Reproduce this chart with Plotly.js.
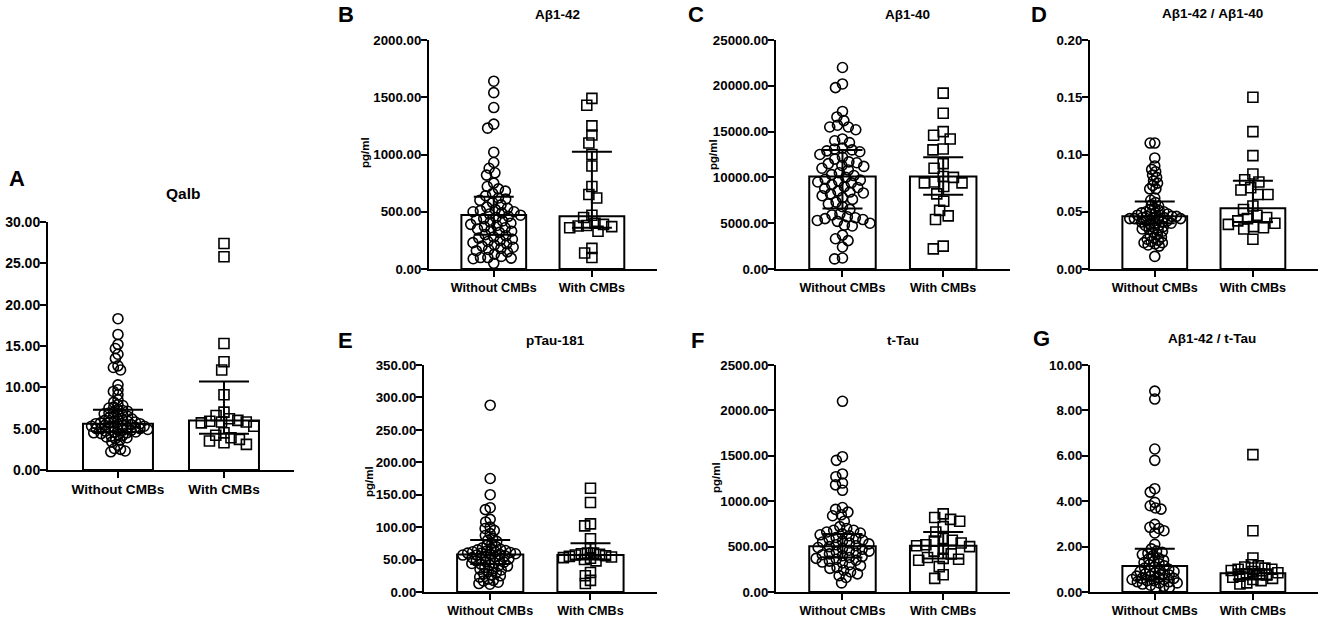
<!DOCTYPE html>
<html><head><meta charset="utf-8">
<script src="https://cdn.plot.ly/plotly-3.0.1.min.js"></script>
<style>html,body{margin:0;padding:0;background:#fff}#chart{width:1325px;height:618px}</style>
</head><body><div id="chart"></div>
<script>
// ---------- DATA ----------
const groups = ['Without CMBs', 'With CMBs'];

const qalbWithout = [18.3,16.4,15.2,14.7,14.0,13.5,12.6,12.4,12.1,10.3,9.7,9.5,9.1,8.5,8.2,7.9,7.8,7.6,7.5,7.3,7.2,7.1,7.0,6.9,6.8,6.7,6.6,6.5,6.4,6.3,6.2,6.1,6.0,6.0,5.9,5.8,5.8,5.7,5.7,5.6,5.6,5.5,5.5,5.4,5.4,5.3,5.3,5.2,5.2,5.1,5.1,5.0,5.0,5.0,4.9,4.9,4.8,4.8,4.7,4.6,4.6,4.5,4.5,4.4,4.3,4.2,4.1,4.0,3.9,3.8,3.6,3.4,3.0,2.6,2.5,2.3,2.2];
const qalbWith = [27.4,25.8,15.3,13.1,12.1,9.1,7.0,6.6,6.2,6.0,5.9,5.8,5.8,5.7,5.3,4.5,4.2,3.9,3.7,3.5,3.3,3.1];
const qalbMedian = [5.6, 6.0];
const qalbQ1 = [4.6, 4.4];
const qalbQ3 = [7.3, 10.7];

const ab42Without = [1640,1540,1410,1265,1230,1020,930,880,840,820,750,720,700,680,660,640,620,610,600,580,560,540,530,520,510,500,500,490,480,470,460,450,440,430,420,410,400,390,380,370,360,350,340,330,320,300,290,280,270,260,250,240,230,220,210,200,190,180,170,160,150,130,110,100,100,95,90,50];
const ab42With = [1490,1430,1250,1170,1100,1000,900,720,650,620,470,450,400,390,380,375,370,360,330,180,140,100];
const ab42Median = [472, 460];
const ab42Q1 = [300, 360];
const ab42Q3 = [630, 1025];

const ab40Without = [22000,20200,19800,17200,16600,16200,15700,15500,15500,15200,14200,14000,13800,13200,13100,13000,12900,12800,12500,12200,12000,11700,11600,11500,11300,11200,11000,10800,10500,10300,10200,10000,9800,9700,9600,9500,9400,9200,9000,8900,8800,8500,8400,8300,8200,8000,7800,7600,7300,7100,6800,6500,6000,5900,5700,5600,5500,5400,5300,5200,5000,4800,4700,3700,3300,3100,2400,1200,1100];
const ab40With = [19200,17000,15000,14600,14200,13100,13000,11500,11000,10100,10000,9500,9400,9400,9000,8200,7400,6400,5800,5400,2500,2200];
const ab40Median = [10100, 10100];
const ab40Q1 = [6600, 8100];
const ab40Q3 = [13000, 12200];

const ab42ab40Without = [0.110,0.110,0.097,0.090,0.087,0.085,0.082,0.080,0.077,0.075,0.073,0.070,0.070,0.062,0.060,0.058,0.056,0.055,0.053,0.052,0.051,0.050,0.050,0.049,0.049,0.048,0.048,0.047,0.047,0.046,0.046,0.046,0.045,0.045,0.045,0.044,0.044,0.044,0.043,0.043,0.042,0.042,0.041,0.041,0.040,0.040,0.039,0.038,0.038,0.037,0.036,0.035,0.035,0.034,0.033,0.032,0.030,0.029,0.028,0.027,0.026,0.025,0.024,0.023,0.023,0.022,0.021,0.020,0.011];
const ab42ab40With = [0.150,0.120,0.099,0.083,0.078,0.076,0.071,0.069,0.065,0.065,0.055,0.052,0.047,0.045,0.044,0.042,0.040,0.039,0.037,0.036,0.035,0.026];
const ab42ab40Median = [0.046, 0.053];
const ab42ab40Q1 = [0.040, 0.041];
const ab42ab40Q3 = [0.059, 0.077];

const ptauWithout = [288,175,150,130,127,112,108,100,98,95,90,87,83,80,78,75,72,70,68,67,66,65,64,63,62,62,61,60,60,59,58,58,57,57,56,55,54,53,52,51,50,49,48,47,46,45,44,43,42,41,40,38,36,35,34,32,30,28,26,25,23,20,18,17,15,13,12];
const ptauWith = [160,138,105,102,82,68,60,60,59,58,57,56,55,54,53,52,50,48,30,25,18,13];
const ptauMedian = [58, 57];
const ptauQ1 = [43, 50];
const ptauQ3 = [80, 75];

const ttauWithout = [2100,1490,1450,1300,1270,1200,1180,1120,930,910,880,850,840,780,720,700,680,680,660,650,640,630,620,600,590,580,570,560,550,540,530,520,510,500,490,480,470,460,450,440,430,420,410,400,390,380,370,360,350,340,330,320,300,290,270,260,240,220,200,180,160,100];
const ttauWith = [860,820,800,780,720,660,590,570,560,540,520,510,500,470,450,420,380,370,360,350,280,190,150];
const ttauMedian = [505, 510];
const ttauQ1 = [380, 370];
const ttauQ3 = [640, 660];

const ab42ttauWithout = [8.85,8.5,6.3,5.8,4.55,4.4,3.95,3.8,3.7,3.65,2.98,2.85,2.8,2.7,2.6,2.1,1.9,1.8,1.75,1.7,1.65,1.6,1.5,1.45,1.4,1.35,1.3,1.25,1.2,1.15,1.1,1.05,1.0,1.0,0.95,0.9,0.9,0.85,0.8,0.8,0.75,0.7,0.7,0.65,0.6,0.6,0.55,0.55,0.5,0.5,0.45,0.45,0.4,0.4,0.35,0.3,0.25,0.2,0.2];
const ab42ttauWith = [6.05,2.7,1.5,1.2,1.15,1.1,1.05,1.0,1.0,0.95,0.9,0.85,0.8,0.8,0.75,0.7,0.65,0.6,0.55,0.5,0.4,0.35];
const ab42ttauMedian = [1.15, 0.83];
const ab42ttauQ1 = [0.55, 0.55];
const ab42ttauQ3 = [1.9, 1.0];

// ---------- PANELS (data refs + geometry in pixels) ----------
const W = 1325, H = 618;
const panels = [
  {letter:'A', title:'Qalb', ytitle:'', w:qalbWithout, c:qalbWith, med:qalbMedian, q1:qalbQ1, q3:qalbQ3, ymax:30, dtick:5,
   left:48, top:222, bottom:470, c0:118, sp:106, letterXY:[7,178], titleXY:[183,193], ytXY:null, capW:25, lim:30,
   fx:13.6, fy:14, ft:15.5},
  {letter:'B', title:'A\u03b21-42', ytitle:'pg/ml', w:ab42Without, c:ab42With, med:ab42Median, q1:ab42Q1, q3:ab42Q3, ymax:2000, dtick:500,
   left:429, top:40, bottom:269, c0:494, sp:98, letterXY:[336,15], titleXY:[557,15], ytXY:[365,153], capW:20, lim:27,
   fx:12.6, fy:13.3, ft:13.5},
  {letter:'C', title:'A\u03b21-40', ytitle:'pg/ml', w:ab40Without, c:ab40With, med:ab40Median, q1:ab40Q1, q3:ab40Q3, ymax:25000, dtick:5000,
   left:776, top:40, bottom:269, c0:847, sp:98, letterXY:[686,15], titleXY:[907,15], ytXY:[713,155], capW:20, lim:27,
   fx:12.6, fy:13.3, ft:13.5},
  {letter:'D', title:'A\u03b21-42 / A\u03b21-40', ytitle:'', w:ab42ab40Without, c:ab42ab40With, med:ab42ab40Median, q1:ab42ab40Q1, q3:ab42ab40Q3, ymax:0.2, dtick:0.05,
   left:1090, top:40, bottom:269, c0:1155, sp:98, letterXY:[1029,15], titleXY:[1212,14], ytXY:null, capW:20, lim:27,
   fx:12.6, fy:13.3, ft:13.5},
  {letter:'E', title:'pTau-181', ytitle:'pg/ml', w:ptauWithout, c:ptauWith, med:ptauMedian, q1:ptauQ1, q3:ptauQ3, ymax:350, dtick:50,
   left:424, top:365, bottom:592, c0:494, sp:98, letterXY:[336,340], titleXY:[555,340], ytXY:[369,482], capW:20, lim:27,
   fx:12.6, fy:13.3, ft:13.5},
  {letter:'F', title:'t-Tau', ytitle:'pg/ml', w:ttauWithout, c:ttauWith, med:ttauMedian, q1:ttauQ1, q3:ttauQ3, ymax:2500, dtick:500,
   left:776, top:365, bottom:592, c0:847, sp:98, letterXY:[689,340], titleXY:[903,340], ytXY:[716,478], capW:20, lim:27,
   fx:12.6, fy:13.3, ft:13.5},
  {letter:'G', title:'A\u03b21-42 / t-Tau', ytitle:'', w:ab42ttauWithout, c:ab42ttauWith, med:ab42ttauMedian, q1:ab42ttauQ1, q3:ab42ttauQ3, ymax:10, dtick:2,
   left:1090, top:365, bottom:592, c0:1155, sp:98, letterXY:[1031,338], titleXY:[1212,338], ytXY:null, capW:20, lim:27,
   fx:12.6, fy:13.3, ft:13.5}
];
const XMIN = -0.66, XMAX = 1.66, BARW = 0.66;
const MS = 10;
const FONT = 'Liberation Sans, Arial, Helvetica, sans-serif';

// beeswarm offsets (pixels) computed from values
function swarm(values, pxPerUnit, minD) {
  const idx = values.map((v, i) => i).sort((a, b) => values[b] - values[a]);
  const placed = [], xs = new Array(values.length);
  idx.forEach(i => {
    const y = values[i] * pxPerUnit;
    const iv = [];
    placed.forEach(p => {
      const dy = Math.abs(p.y - y);
      if (dy < minD) { const dx = Math.sqrt(minD * minD - dy * dy); iv.push([p.x - dx, p.x + dx]); }
    });
    const cands = [0];
    iv.forEach(v => cands.push(v[0], v[1]));
    cands.sort((a, b) => Math.abs(a) - Math.abs(b));
    let x = 0;
    for (const cnd of cands) {
      if (iv.every(v => cnd <= v[0] + 1e-9 || cnd >= v[1] - 1e-9)) { x = cnd; break; }
    }
    xs[i] = x; placed.push({x, y});
  });
  return xs;
}
function fitSwarm(values, ppu, limit) {
  let d = MS, xs = swarm(values, ppu, d);
  for (let it = 0; it < 60; it++) {
    const m = Math.max(...xs.map(Math.abs));
    if (m <= limit) break;
    d *= 0.95;
    xs = swarm(values, ppu, d);
  }
  return xs;
}

const traces = [];
const layout = {
  width: W, height: H, margin: {l:0, r:0, t:0, b:0},
  paper_bgcolor: '#fff', plot_bgcolor: 'rgba(0,0,0,0)', showlegend: false,
  font: {family: FONT, color: '#000'}, annotations: []
};

panels.forEach((p, k) => {
  const n = k + 1;
  const xa = 'x' + (n === 1 ? '' : n), ya = 'y' + (n === 1 ? '' : n);
  const right = p.c0 + XMAX * p.sp;
  const ppu = (p.bottom - p.top) / p.ymax;
  traces.push({type:'bar', x:[0,1], y:p.med, width:BARW, xaxis:xa, yaxis:ya,
    marker:{color:'#fff', line:{color:'#000', width:2}}, hoverinfo:'skip'});
  const sw = fitSwarm(p.w, ppu, p.lim);
  const sc = fitSwarm(p.c, ppu, p.lim);
  traces.push({type:'scatter', mode:'markers', xaxis:xa, yaxis:ya,
    x: sw.map(d => 0 + d / p.sp), y: p.w, hoverinfo:'skip',
    marker:{symbol:'circle-open', size:MS, color:'#000', line:{width:1.6, color:'#000'}}});
  traces.push({type:'scatter', mode:'markers', xaxis:xa, yaxis:ya,
    x: sc.map(d => 1 + d / p.sp), y: p.c, hoverinfo:'skip',
    marker:{symbol:'square-open', size:MS, color:'#000', line:{width:1.6, color:'#000'}}});
  traces.push({type:'scatter', mode:'markers', xaxis:xa, yaxis:ya, x:[0,1], y:p.med, hoverinfo:'skip',
    marker:{size:1, color:'rgba(0,0,0,0)'},
    error_y:{type:'data', symmetric:false,
      array: p.q3.map((v, i) => v - p.med[i]), arrayminus: p.med.map((v, i) => v - p.q1[i]),
      color:'#000', thickness:2, width:p.capW}});

  layout['xaxis' + (n === 1 ? '' : n)] = {
    domain:[p.left / W, right / W], anchor: ya, range:[XMIN, XMAX],
    tickvals:[0,1], ticktext:groups, showline:true, linecolor:'#000', linewidth:2,
    ticks:'outside', ticklen:6, tickwidth:2, tickcolor:'#000', showgrid:false, zeroline:false,
    tickfont:{family:FONT, size:p.fx, weight:'bold', color:'#000'}, fixedrange:true
  };
  layout['yaxis' + (n === 1 ? '' : n)] = {
    domain:[1 - p.bottom / H, 1 - p.top / H], anchor: xa, range:[0, p.ymax],
    tick0:0, dtick:p.dtick, tickformat:'.2f', showline:true, linecolor:'#000', linewidth:2,
    ticks:'outside', ticklen:6, tickwidth:2, tickcolor:'#000', showgrid:false, zeroline:false,
    ticklabelstandoff:-3,
    tickfont:{family:FONT, size:p.fy, weight:'bold', color:'#000'}, fixedrange:true
  };
  layout.annotations.push({xref:'paper', yref:'paper', x:p.letterXY[0] / W, y:1 - p.letterXY[1] / H,
    xanchor:'left', yanchor:'middle', showarrow:false, text:p.letter,
    font:{family:FONT, size:22, weight:'bold', color:'#000'}});
  layout.annotations.push({xref:'paper', yref:'paper', x:p.titleXY[0] / W, y:1 - p.titleXY[1] / H,
    xanchor:'center', yanchor:'middle', showarrow:false, text:p.title,
    font:{family:FONT, size:p.ft, weight:'bold', color:'#000'}});
  if (p.ytXY) layout.annotations.push({xref:'paper', yref:'paper', x:p.ytXY[0] / W, y:1 - p.ytXY[1] / H,
    xanchor:'center', yanchor:'middle', showarrow:false, text:p.ytitle, textangle:-90,
    font:{family:FONT, size:11.5, weight:'bold', color:'#000'}});
});

Plotly.newPlot('chart', traces, layout, {displayModeBar:false, staticPlot:true});
</script></body></html>
